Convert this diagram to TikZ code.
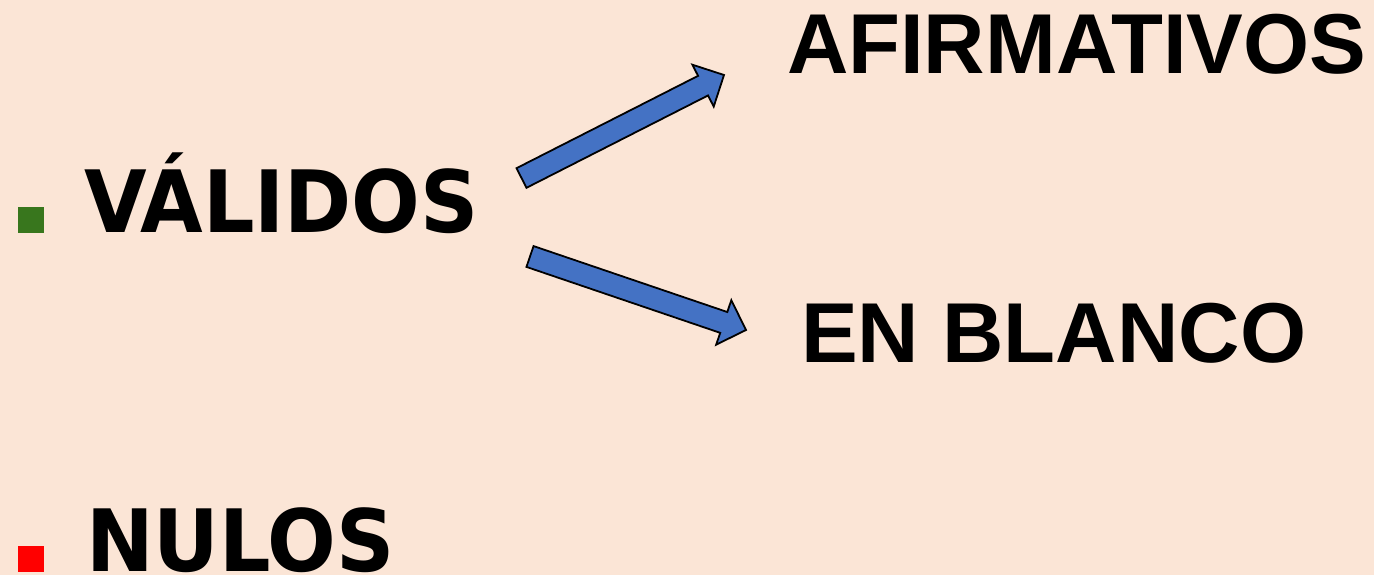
\documentclass[tikz,border=0pt]{standalone}
\usepackage{fontspec}
\setmainfont{Liberation Sans}
\newfontfamily\itemfont{DejaVu Sans Condensed}[FakeStretch=1.045]
\usetikzlibrary{calc}
\definecolor{peach}{HTML}{FBE5D6}
\definecolor{arrowblue}{HTML}{4472C4}
\definecolor{bulletgreen}{HTML}{38761D}
\tikzset{every node/.style={inner sep=0pt, outer sep=0pt},
  item/.style={anchor=base west, font=\itemfont\bfseries\fontsize{86}{86}\selectfont},
  answer/.style={anchor=base west, font=\bfseries\fontsize{85}{85}\selectfont},
  bullet/.style={minimum size=26pt},
  blockarrow/.style={fill=arrowblue, draw=black, line width=1.8pt, line join=miter}}

\begin{document}
\begin{tikzpicture}[x=1pt,y=-1pt]
   \fill[peach] (0,0) rectangle (1374,575);
   \useasboundingbox (0,0) rectangle (1374,575);
   \node[bullet, fill=bulletgreen] (vb) at (31,220) {};
   \node[bullet, fill=red]         (nb) at (31,559) {};
   \node[item]   (val) at (84,233)  {VÁLIDOS};
   \node[item]   (nul) at (86,571)  {NULOS};
   \node[answer] (afi) at (787,74)  {AFIRMATIVOS};
   \node[answer] (bla) at (801,362) {EN BLANCO};
   \coordinate (u0) at (521.5,178);
   \coordinate (u1) at (724,75);
   \coordinate (d0) at (530,256.5);
   \coordinate (d1) at (746,330);
   \foreach \s/\t in {u0/u1, d0/d1} {
     \coordinate (\s-h) at ($(\t)!23.5pt!(\s)$);
     \draw[blockarrow]
       ($(\s)!11pt!90:(\t)$)      -- ($(\s-h)!11pt!90:(\t)$) --
       ($(\s-h)!23.5pt!90:(\t)$)  -- (\t) --
       ($(\s-h)!23.5pt!-90:(\t)$) -- ($(\s-h)!11pt!-90:(\t)$) --
       ($(\s)!11pt!-90:(\t)$)     -- cycle;
   }
\end{tikzpicture}
\end{document}
